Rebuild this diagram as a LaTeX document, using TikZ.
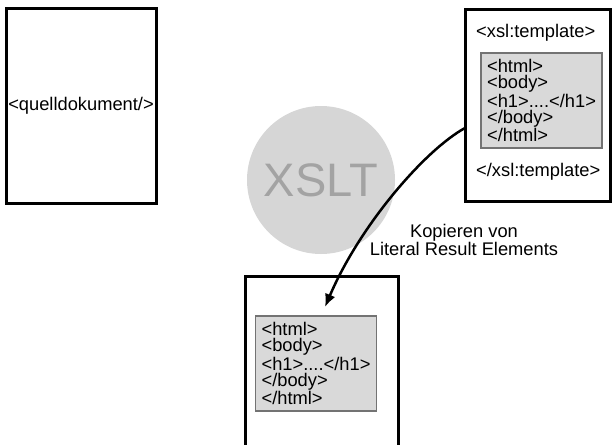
\documentclass[tikz,border=0pt]{standalone}
\usepackage{fontspec}
\setmainfont{Liberation Sans}
\usetikzlibrary{positioning,arrows.meta,calc}

\begin{document}
\begin{tikzpicture}[x=1pt,y=-1pt,font=\fontsize{18.3}{16.7}\selectfont,
 dokument/.style={draw,line width=3pt,inner sep=0pt},
 htmlbox/.style={draw=black!55,line width=1.2pt,fill=black!15,align=left,minimum width=121pt,minimum height=95pt,inner sep=0pt},
 pfeil/.style={line width=2.5pt,-{Latex[length=13pt,width=11pt]}}]
\useasboundingbox (0,0) rectangle (612,444);
\node[circle,fill=black!16,minimum size=148pt,text=black!36,font=\fontsize{47}{47}\selectfont] (xslt) at (321,180) {XSLT};
\node[dokument,minimum width=150pt,minimum height=194pt] (quelle) at (81,106) {<quelldokument/>};
\node[dokument,minimum width=145pt,minimum height=191pt] (vorlage) at (537.5,105.5) {};
\node[anchor=west,inner sep=0pt] (tplauf) at (476,33) {<xsl:template>};
\node[htmlbox] (vorlagehtml) at (541.5,100.5) {<html>\\<body>\\<h1>....</h1>\\</body>\\</html>};
\node[anchor=west,inner sep=0pt] (tplzu) at (476,172) {</xsl:template>};
\draw[line width=3pt] (245,446) |- (398,276) -- (398,446);
\node[htmlbox] (ergebnishtml) at (316,363.5) {<html>\\<body>\\<h1>....</h1>\\</body>\\</html>};
\coordinate (start) at (465,128);
\coordinate (spitze) at (325,307);
\draw[pfeil] (start) .. controls (425,150) and (360,225) .. (spitze);
\node[align=center,font=\fontsize{18.3}{17}\selectfont] (kopie) at (464,240) {Kopieren von\\Literal Result Elements};
\end{tikzpicture}
\end{document}
